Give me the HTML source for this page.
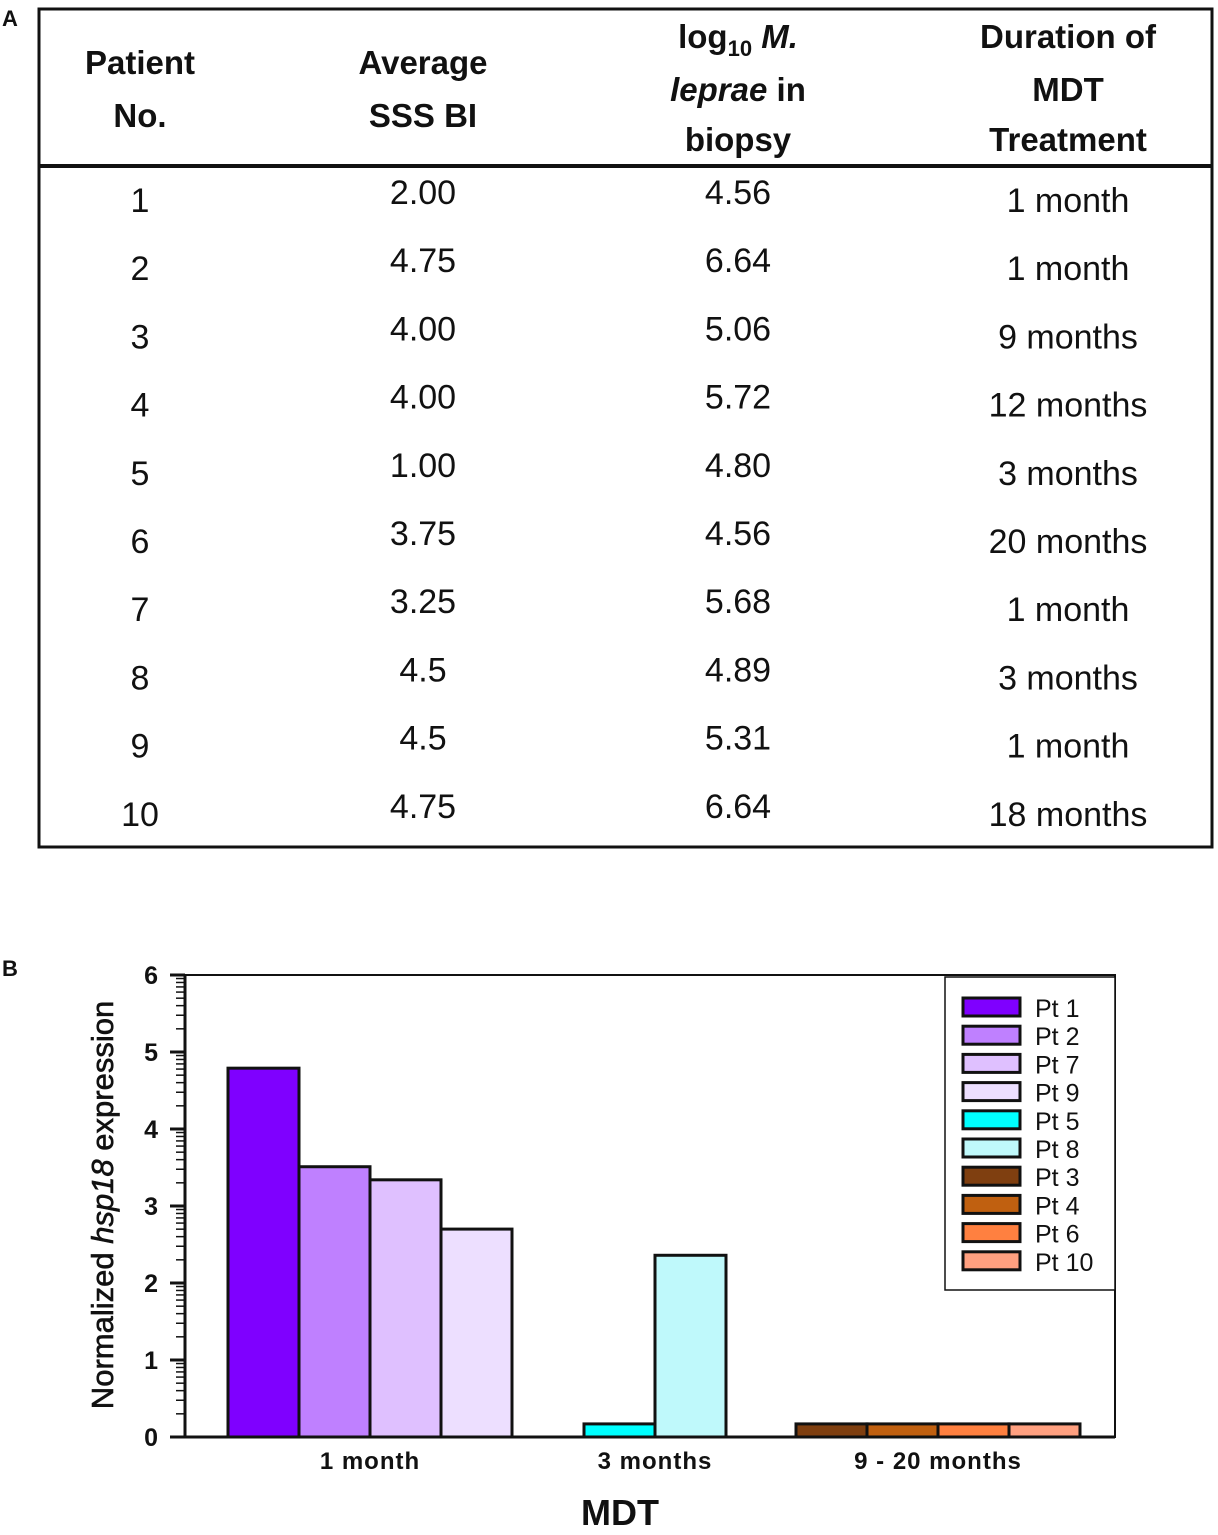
<!DOCTYPE html>
<html><head><meta charset="utf-8"><style>
body{margin:0;background:#fff;width:1218px;height:1535px;overflow:hidden;font-family:"Liberation Sans",Arial,sans-serif}
svg{display:block}
.t{font-family:"Liberation Sans",sans-serif;fill:#111}
</style></head><body>
<svg width="1218" height="1535" viewBox="0 0 1218 1535">
<text x="2" y="26" font-size="22" font-weight="bold" class="t">A</text>
<g>
<rect x="39" y="9" width="1173" height="838" fill="none" stroke="#111" stroke-width="3"/>
<line x1="39" y1="166" x2="1212" y2="166" stroke="#111" stroke-width="4"/>
<g font-size="33" font-weight="bold" text-anchor="middle" class="t">
<text x="140" y="74">Patient</text><text x="140" y="127">No.</text>
<text x="423" y="74">Average</text><text x="423" y="127">SSS BI</text>
<text x="738" y="48">log<tspan font-size="22" dy="8">10</tspan><tspan dy="-8" font-style="italic"> M.</tspan></text>
<text x="738" y="101"><tspan font-style="italic">leprae</tspan> in</text><text x="738" y="151">biopsy</text>
<text x="1068" y="48">Duration of</text><text x="1068" y="101">MDT</text><text x="1068" y="151">Treatment</text>
</g>
<g id="tbody" font-size="34" text-anchor="middle" class="t"></g>
</g>
<text x="2" y="976" font-size="22" font-weight="bold" class="t">B</text>
<g id="chart"></g>
</svg>
<script>
const rowsNo=["1","2","3","4","5","6","7","8","9","10"];
const rowsBI=["2.00","4.75","4.00","4.00","1.00","3.75","3.25","4.5","4.5","4.75"];
const rowsLog=["4.56","6.64","5.06","5.72","4.80","4.56","5.68","4.89","5.31","6.64"];
const rowsDur=["1 month","1 month","9 months","12 months","3 months","20 months","1 month","3 months","1 month","18 months"];

const groups=["1 month","3 months","9 - 20 months"];
const patients=["Pt 1","Pt 2","Pt 7","Pt 9","Pt 5","Pt 8","Pt 3","Pt 4","Pt 6","Pt 10"];
const patientGroup=[0,0,0,0,1,1,2,2,2,2];
const values=[4.79,3.51,3.34,2.70,0.17,2.36,0.17,0.17,0.17,0.17];
const colors=["#7f00ff","#bf80ff","#dfc0ff","#eddfff","#00ffff","#bff9fb","#7f3f10","#c06010","#ff8040","#ffa080"];
const yTicks=[0,1,2,3,4,5,6];

const NS="http://www.w3.org/2000/svg";
function el(tag,attrs,parent,txt){const e=document.createElementNS(NS,tag);for(const k in attrs)e.setAttribute(k,attrs[k]);if(txt!=null)e.textContent=txt;parent.appendChild(e);return e;}

const tb=document.getElementById('tbody');
for(let i=0;i<rowsNo.length;i++){
  const yb=212+i*68.2, yu=204+i*68.2;
  let t=el('text',{x:140,y:yb},tb,rowsNo[i]);
  
  
  t=el('text',{x:423,y:yu},tb,rowsBI[i]);
  
  
  t=el('text',{x:738,y:yu},tb,rowsLog[i]);
  
  
  t=el('text',{x:1068,y:yb},tb,rowsDur[i]);
  
  
}

const g=document.getElementById('chart');
const X0=185,X1=1115,Y0=1437,Y1=975,YMAX=6;
const y=v=>Y0-(v/YMAX)*(Y0-Y1);
const groupCenter=[370,655,938], BW=71;
let f=el('rect',{x:X0,y:Y1,width:X1-X0,height:Y0-Y1,fill:'none',stroke:'#111','stroke-width':2},g);


el('line',{x1:X0,y1:Y1,x2:X0,y2:Y0,stroke:'#111','stroke-width':3},g);
el('line',{x1:X0,y1:Y0,x2:X1,y2:Y0,stroke:'#111','stroke-width':3},g);
yTicks.forEach(v=>{
  el('line',{x1:170,y1:y(v),x2:X0,y2:y(v),stroke:'#111','stroke-width':3},g);
  const t=el('text',{x:158,y:y(v)+9,'font-size':25,'font-weight':'bold','text-anchor':'end',class:'t'},g,String(v));
  
  
  if(v<YMAX){for(let k=2;k<=9;k++){const vv=v+Math.log10(k);el('line',{x1:176,y1:y(vv),x2:X0,y2:y(vv),stroke:'#111','stroke-width':1.5},g);}}
});
const counts=[0,0,0],idx=[0,0,0];
patientGroup.forEach(p=>counts[p]++);
values.forEach((v,i)=>{
  const gi=patientGroup[i];const n=counts[gi];
  const x=groupCenter[gi]-n*BW/2+idx[gi]*BW; idx[gi]++;
  const r=el('rect',{x:x,y:y(v),width:BW,height:Y0-y(v),fill:colors[i],stroke:'#111','stroke-width':3},g);
  
  
});
groups.forEach((s,i)=>{
  const t=el('text',{x:groupCenter[i],y:1469,'font-size':24,'font-weight':'bold','text-anchor':'middle','letter-spacing':'1',class:'t'},g,s);
  
  
});
let xt=el('text',{x:620,y:1525,'font-size':36,'font-weight':'bold','text-anchor':'middle',class:'t'},g,'MDT');


let yt=el('text',{x:0,y:0,'font-size':31,'text-anchor':'middle',class:'t',stroke:'#111','stroke-width':'0.6',transform:'translate(113,1205) rotate(-90)'},g);


yt.innerHTML='Normalized <tspan font-style="italic">hsp18</tspan> expression';
const lg=el('g',{},g);


el('rect',{x:945,y:977,width:170,height:313,fill:'#fff',stroke:'#111','stroke-width':1.5},lg);
patients.forEach((p,i)=>{
  const yy=998+i*28.2;
  const e=el('g',{},lg);
  
  
  el('rect',{x:963,y:yy,width:57,height:18,fill:colors[i],stroke:'#111','stroke-width':3},e);
  el('text',{x:1035,y:yy+19,'font-size':25,class:'t'},e,p);
});
</script>
</body></html>
